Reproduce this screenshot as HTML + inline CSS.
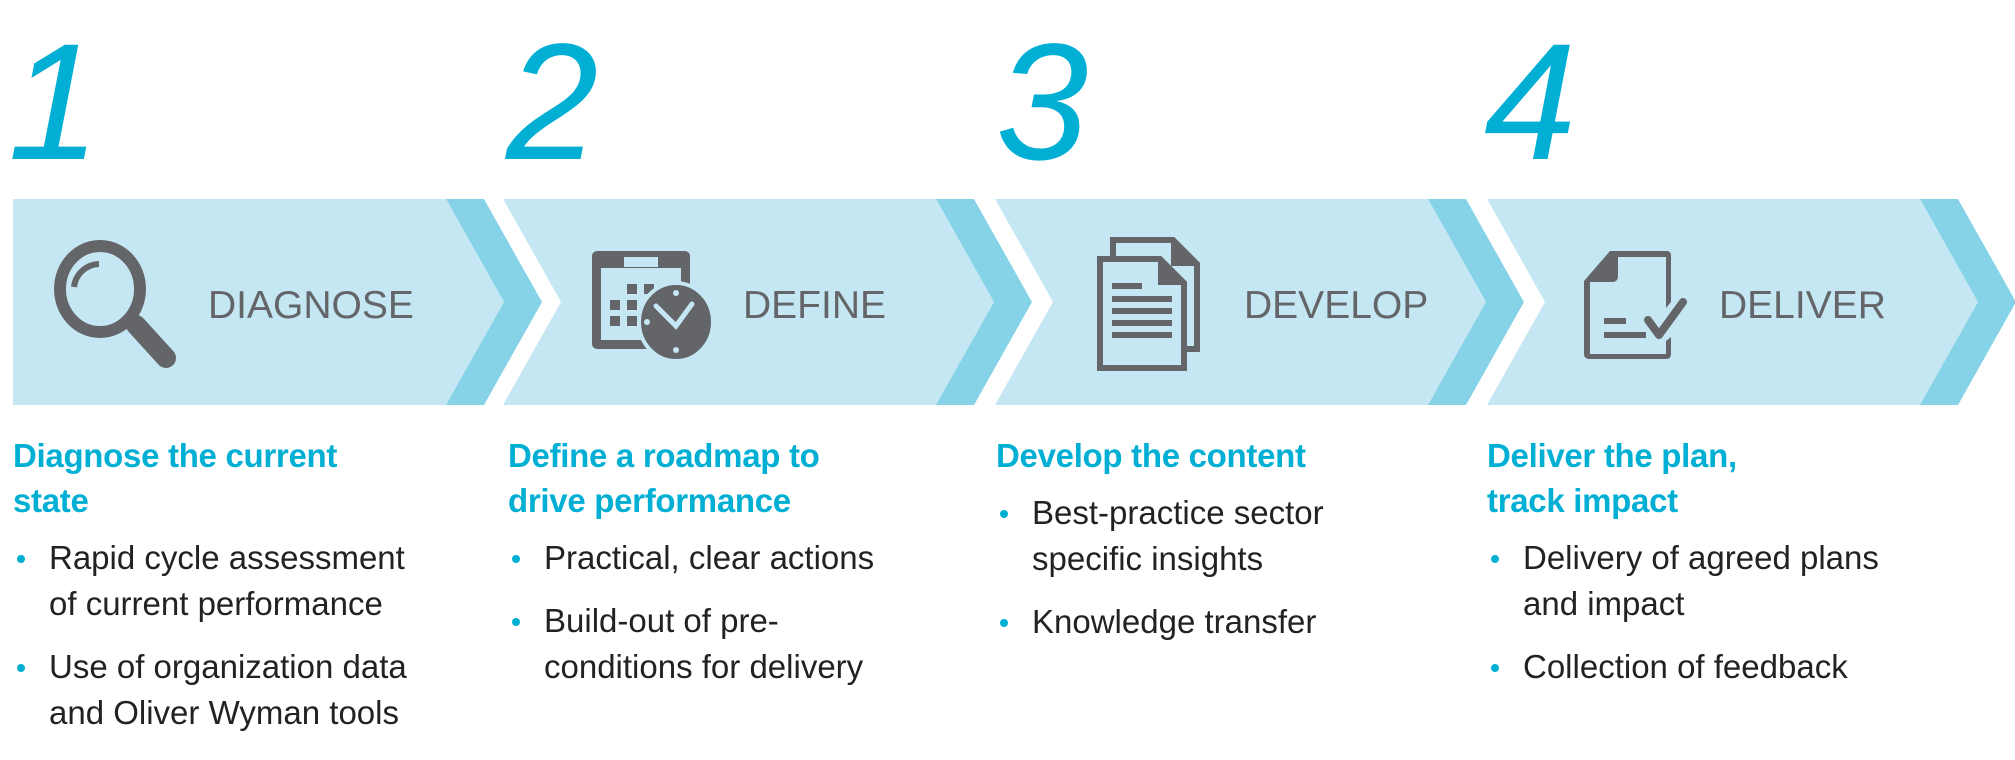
<!DOCTYPE html>
<html><head><meta charset="utf-8"><style>
body{margin:0;width:2015px;height:760px;background:#fff;position:relative;overflow:hidden;font-family:"Liberation Sans",sans-serif}
.num{position:absolute;top:20px;font-size:166px;font-style:italic;color:#00afd3;font-weight:normal;line-height:1}
.lab{position:absolute;top:284px;font-size:39px;color:#646569}
.col{position:absolute;top:433px;width:520px}
.col h2{margin:0 0 12px 0;font-size:33px;line-height:45px;color:#00afd3;font-weight:bold;letter-spacing:-0.3px}
.col ul{margin:0;padding:0;list-style:none}
.col li{font-size:33px;line-height:46px;color:#222;padding-left:36px;letter-spacing:0px;position:relative;margin-bottom:17px}
.col li:before{content:"";position:absolute;left:4px;top:20px;width:8px;height:8px;border-radius:50%;background:#00afd3}
</style></head><body>
<div class="num" style="left:8px;">1</div>
<div class="num" style="left:506px;">2</div>
<div class="num" style="left:996px;">3</div>
<div class="num" style="left:1484px;">4</div>

<svg width="2015" height="760" style="position:absolute;left:0;top:0">
<g>
<polygon points="13,199 446,199 504,302 446,405 13,405" fill="#c4e7f3"/>
<polygon points="446,199 484,199 542,302 484,405 446,405 504,302" fill="#86d3e7"/>
</g>
<g transform="translate(490,0)">
<polygon points="13,199 446,199 504,302 446,405 13,405 71,302" fill="#c4e7f3"/>
<polygon points="446,199 484,199 542,302 484,405 446,405 504,302" fill="#86d3e7"/>
</g>
<g transform="translate(982,0)">
<polygon points="13,199 446,199 504,302 446,405 13,405 71,302" fill="#c4e7f3"/>
<polygon points="446,199 484,199 542,302 484,405 446,405 504,302" fill="#86d3e7"/>
</g>
<g transform="translate(1474,0)">
<polygon points="13,199 446,199 504,302 446,405 13,405 71,302" fill="#c4e7f3"/>
<polygon points="446,199 484,199 542,302 484,405 446,405 504,302" fill="#86d3e7"/>
</g>
<!-- magnifier -->
<g fill="none" stroke="#646569">
<ellipse cx="100" cy="289" rx="40" ry="43" stroke-width="12"/>
<path d="M74 287 A26 26 0 0 1 99 264" stroke-width="6"/>
<line x1="136" y1="325" x2="166" y2="358" stroke-width="20" stroke-linecap="round"/>
</g>
<!-- calendar -->
<g fill="#646569">
<rect x="592" y="251" width="98" height="98" rx="5"/>
<rect x="601" y="268" width="80" height="72" fill="#c4e7f3"/>
<rect x="624" y="257" width="34" height="10" fill="#c4e7f3"/>
<rect x="627" y="284" width="10" height="10"/><rect x="644" y="284" width="10" height="10"/>
<rect x="610" y="300" width="10" height="10"/><rect x="627" y="300" width="10" height="10"/><rect x="644" y="300" width="10" height="10"/>
<rect x="610" y="316" width="10" height="10"/><rect x="627" y="316" width="10" height="10"/><rect x="644" y="316" width="10" height="10"/>
<ellipse cx="676" cy="322" rx="37" ry="39" stroke="#c4e7f3" stroke-width="4"/>
<path d="M656 306 L676 326 L692 304" stroke="#c4e7f3" stroke-width="5" fill="none" stroke-linecap="round"/>
<circle cx="676" cy="293" r="3" fill="#c4e7f3"/><circle cx="676" cy="350" r="3" fill="#c4e7f3"/><circle cx="647" cy="322" r="3" fill="#c4e7f3"/>
</g>
<!-- documents -->
<g fill="none" stroke="#646569" stroke-width="6">
<path d="M1113 258 V240 H1173 L1197 264 V349 H1186"/>
<path d="M1100 259 H1160 L1184 283 V368 H1100 Z" fill="#c4e7f3"/>
</g>
<g fill="#646569">
<path d="M1171 240 L1197 266 H1171 Z"/>
<path d="M1158 259 L1184 285 H1158 Z"/>
<rect x="1112" y="283" width="30" height="6"/>
<rect x="1112" y="296" width="60" height="6"/>
<rect x="1112" y="308" width="60" height="6"/>
<rect x="1112" y="320" width="60" height="6"/>
<rect x="1112" y="332" width="60" height="6"/>
</g>
<!-- deliver doc -->
<g fill="#646569">
<path d="M1610 251 H1667 Q1671 251 1671 256 V302 L1666 308 V257 H1618 V276 Q1618 282 1612 282 H1590 V354 H1666 V341 L1671 337 V354 Q1671 359 1666 359 H1590 Q1584 359 1584 354 V281 Z"/>
<rect x="1604" y="318" width="22" height="6"/>
<rect x="1604" y="332" width="42" height="6"/>
<path d="M1648 320 L1659 335 L1683 302" stroke="#646569" stroke-width="8" fill="none" stroke-linecap="round" stroke-linejoin="round"/>
</g>
</svg>

<div class="lab" style="left:208px">DIAGNOSE</div>
<div class="lab" style="left:743px">DEFINE</div>
<div class="lab" style="left:1244px">DEVELOP</div>
<div class="lab" style="left:1719px">DELIVER</div>

<div class="col" style="left:13px"><h2>Diagnose the current<br>state</h2><ul>
<li>Rapid cycle assessment<br>of current performance</li>
<li>Use of organization data<br>and Oliver Wyman tools</li></ul></div>
<div class="col" style="left:508px"><h2>Define a roadmap to<br>drive performance</h2><ul>
<li>Practical, clear actions</li>
<li>Build-out of pre-<br>conditions for delivery</li></ul></div>
<div class="col" style="left:996px"><h2>Develop the content</h2><ul>
<li>Best-practice sector<br>specific insights</li>
<li>Knowledge transfer</li></ul></div>
<div class="col" style="left:1487px"><h2>Deliver the plan,<br>track impact</h2><ul>
<li>Delivery of agreed plans<br>and impact</li>
<li>Collection of feedback</li></ul></div>
</body></html>
